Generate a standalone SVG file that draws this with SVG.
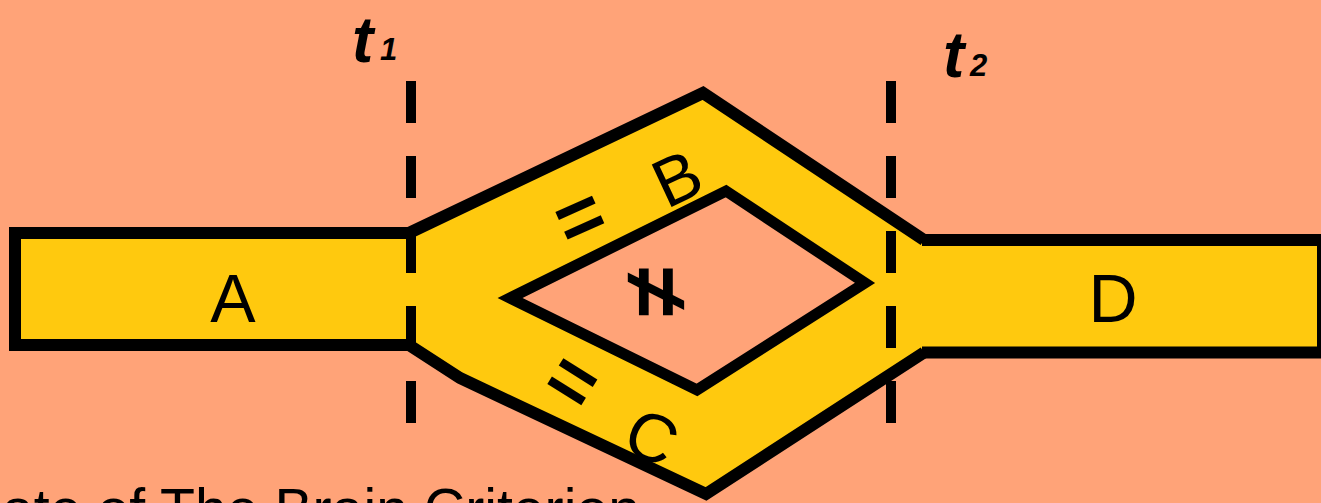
<svg xmlns="http://www.w3.org/2000/svg" width="1321" height="503" viewBox="0 0 1321 503">
<style>
.fill{fill:#FFC90E}
.edge{fill:none;stroke:#000;stroke-width:12;stroke-linejoin:miter}
.dash{stroke:#000;stroke-width:10;stroke-dasharray:42 33}
.lbl{font-family:"Liberation Sans",Arial,sans-serif;font-size:68px;fill:#000;text-anchor:middle}
.eq{font-family:"Liberation Sans",Arial,sans-serif;font-weight:bold;font-size:80px;fill:#000;text-anchor:middle}
.t{font-family:"Liberation Sans",Arial,sans-serif;font-weight:bold;font-style:italic;fill:#000}
</style>
<rect width="1321" height="503" fill="#FFA378"/>
<g id="nodeA">
<rect class="fill" x="15" y="233" width="400" height="112"/>
<path class="edge" d="M415,233 H15 V345 H415"/>
<text class="lbl" x="233" y="322">A</text>
</g>
<g id="nodeD">
<rect class="fill" x="922" y="240" width="401" height="112.5"/>
<path class="edge" d="M922,240 H1323 V352.5 H922"/>
<text class="lbl" x="1113" y="322">D</text>
</g>
<g id="connectors">
<polygon class="fill" points="409,233 703,93 922,240 922,352.5 706,494 460,378 409,345"/>
<polyline class="edge" points="409,233 703,93 924,240"/>
<polyline class="edge" points="924,352.5 706,494 460,378 409,345"/>
<polygon points="510,298 726,191 865,283 697,390" fill="#FFA378" stroke="#000" stroke-width="11" stroke-linejoin="miter"/>
</g>
<g id="nodeB">
<text class="lbl" x="677" y="202" transform="rotate(-25 677 178)">B</text>
<text class="eq" x="580" y="244" transform="rotate(-24 580 218)">=</text>
</g>
<g id="nodeC">
<text class="lbl" x="652" y="461" transform="rotate(25 652 437)">C</text>
<text class="eq" x="572" y="408" transform="rotate(32 572 382)">=</text>
</g>
<g id="neq">
<text class="eq" x="0" y="30" transform="translate(656 292) rotate(90)" style="font-size:90px">≠</text>
</g>
<g id="t1">
<line class="dash" x1="411" y1="81" x2="411" y2="423"/>
<text class="t" x="352" y="62" style="font-size:64px">t</text>
<text class="t" x="380" y="60" style="font-size:31px">1</text>
</g>
<g id="t2">
<line class="dash" x1="891" y1="81" x2="891" y2="423"/>
<text class="t" x="943" y="77" style="font-size:64px">t</text>
<text class="t" x="970" y="76" style="font-size:31px">2</text>
</g>
<text x="2" y="529" textLength="638" lengthAdjust="spacingAndGlyphs" style="font-family:'Liberation Sans',Arial,sans-serif;font-size:57px" fill="#000">ate of The Brain Criterion</text>
</svg>
